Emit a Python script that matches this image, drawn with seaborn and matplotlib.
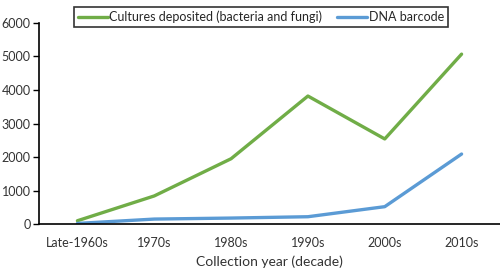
import pandas as pd
import matplotlib
matplotlib.use("Agg")
import matplotlib.pyplot as plt
import seaborn as sns

decades = ["Late-1960s", "1970s", "1980s", "1990s", "2000s", "2010s"]
cultures = [100, 840, 1950, 3820, 2540, 5070]
barcodes = [20, 150, 180, 220, 520, 2090]
series_names = ["Cultures deposited (bacteria and fungi)", "DNA barcode"]

df = pd.DataFrame({
    "decade": decades * 2,
    "count": cultures + barcodes,
    "series": [series_names[0]] * len(decades) + [series_names[1]] * len(decades),
})

sns.set_style("white")
plt.rcParams["font.family"] = ["Lato", "DejaVu Sans"]

fig = plt.figure(figsize=(5, 2.7), dpi=100)
ax = fig.add_axes([0.078, 0.17, 0.922, 0.745])

sns.lineplot(
    data=df, x="decade", y="count", hue="series",
    palette=["#70AD47", "#5B9BD5"], linewidth=2.4, sort=False, ax=ax
)

ax.set_xlim(-0.5, 5.5)
ax.set_ylim(0, 6000)
ax.set_yticks(range(0, 6001, 1000))
ax.set_xlabel("Collection year (decade)", fontsize=10, color="#333333", labelpad=5)
ax.set_ylabel("")
ax.tick_params(axis="y", length=4, width=1, color="black", labelsize=9, labelcolor="#333333", direction="out", left=True, pad=2)
ax.tick_params(axis="x", length=0, labelsize=9, labelcolor="#333333", pad=9)
for side in ["top", "right"]:
    ax.spines[side].set_visible(False)
for side in ["left", "bottom"]:
    ax.spines[side].set_color("black")
    ax.spines[side].set_linewidth(1.2)

leg = ax.legend(
    ncol=2, loc="upper center", bbox_to_anchor=(0.522, 0.998),
    bbox_transform=fig.transFigure,
    frameon=True, fancybox=False, edgecolor="black", fontsize=9,
    handlelength=2.4, columnspacing=1.2, borderpad=0.3, handletextpad=0.15
)
leg.get_frame().set_linewidth(1.2)

fig.savefig("out.png", dpi=100)
